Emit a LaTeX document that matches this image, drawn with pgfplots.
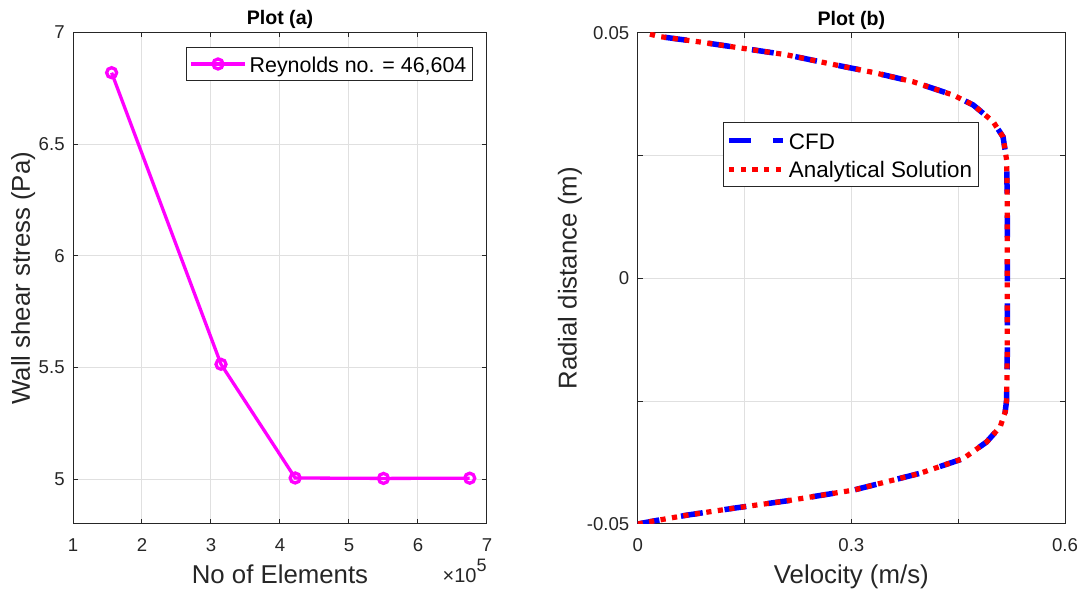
\documentclass[border=0pt]{standalone}
\usepackage{pgfplots}
\pgfplotsset{compat=1.18}
\usepackage{fontspec}
\setmainfont{Liberation Sans}
\definecolor{axgray}{HTML}{262626}
\definecolor{gridgray}{HTML}{E0E0E0}
\definecolor{mag}{HTML}{FF00FF}
\pgfplotsset{
  mystyle/.style={
    scale only axis,
    anchor=south west,
    scaled x ticks=false, scaled y ticks=false,
    axis line style={draw=axgray, line width=0.5pt},
    every tick/.style={draw=axgray, line width=0.5pt},
    major tick length=2.5pt,
    tick align=inside,
    grid=major,
    major grid style={draw=gridgray, line width=0.5pt},
    /pgf/number format/assume math mode=true,
    tick label style={font=\fontsize{9.3}{11}\selectfont, text=axgray},
    xticklabel style={inner sep=0pt, anchor=north, yshift=-7pt},
    yticklabel style={inner sep=0pt, anchor=east, xshift=-4pt},
    label style={font=\fontsize{12.9}{15}\selectfont, text=axgray},
    xlabel style={at={(axis description cs:0.5,0)}, anchor=base, yshift=-30pt},
    title style={at={(axis description cs:0.5,1)}, anchor=base, yshift=-2.25pt, font=\bfseries\fontsize{9.8}{12}\selectfont},
    legend style={draw=axgray, line width=0.5pt, text=black,
      inner xsep=1.5pt, row sep=2.35pt,
      nodes={inner xsep=1.5pt, inner ysep=1pt, text height=9.3pt, text depth=0.7pt}},
    legend cell align=left,
    legend image code/.code={\draw[mark repeat=2,mark phase=2,##1] plot coordinates {(0pt,0pt) (13.5pt,0pt) (27pt,0pt)};},
  }
}
\begin{document}
\begin{tikzpicture}
\path[use as bounding box] (0,0) rectangle (540.5pt,296.5pt);
% ---------- Plot (a)
\begin{axis}[mystyle, name=axA,
  at={(36.5pt,34.5pt)}, width=207pt, height=245.75pt,
  xmin=1, xmax=7, ymin=4.8, ymax=7,
  xtick={1,2,3,4,5,6,7}, xticklabels={1,2,3,4,5,6,7},
  ytick={5,5.5,6,6.5,7}, yticklabels={5,5.5,6,6.5,7},
  title={Plot (a)},
  xlabel={No of Elements},
  ylabel={Wall shear stress (Pa)},
  ylabel style={at={(axis description cs:0,0.5)}, anchor=base, yshift=21.5pt},
  legend style={at={(0.966,0.9705)}, anchor=north east, inner ysep=2.25pt,
    font=\fontsize{10.7}{13}\selectfont},
]
\addplot[mag, line width=1.65pt, mark=o, mark size=2.5pt, mark options={line width=1.65pt}]
  coordinates {(1.56,6.82) (3.145,5.515) (4.22,5.006) (5.50,5.004) (6.75,5.005)};
\addlegendentry{Reynolds no. = 46,604}
\end{axis}
\node[anchor=base east, inner sep=0pt, text=axgray, font=\fontsize{10}{12}\selectfont]
  at ([yshift=-29.3pt]axA.south east) {×10\raisebox{0.55em}{\fontsize{9}{10}\selectfont 5}};
% ---------- Plot (b)
\begin{axis}[mystyle,
  at={(318.85pt,34.5pt)}, width=213.65pt, height=245.65pt,
  xmin=0, xmax=0.6, ymin=-0.05, ymax=0.05,
  xtick={0,0.15,0.3,0.45,0.6}, xticklabels={0,,0.3,,0.6},
  ytick={-0.05,-0.025,0,0.025,0.05}, yticklabels={-0.05,,0,,0.05},
  title={Plot (b)},
  xlabel={Velocity (m/s)},
  ylabel={Radial distance (m)},
  ylabel style={at={(axis description cs:0,0.5)}, anchor=base, yshift=30.5pt},
  legend style={at={(0.1996,0.818)}, anchor=north west, inner ysep=2.9pt,
    font=\fontsize{11.2}{13}\selectfont},
]
\addplot[blue, line width=2.75pt, dash pattern=on 11pt off 11pt] coordinates {
(0.000,-0.0500) (0.022,-0.0494) (0.069,-0.0482) (0.139,-0.0467) (0.209,-0.0453)
(0.303,-0.0431) (0.396,-0.0397) (0.457,-0.0367) (0.490,-0.0333) (0.509,-0.0302)
(0.516,-0.0272) (0.518,-0.0248) (0.519,-0.0150) (0.519,0.0000) (0.519,0.0150)
(0.518,0.0241) (0.513,0.0288) (0.499,0.0319) (0.471,0.0353) (0.443,0.0373)
(0.387,0.0400) (0.331,0.0419) (0.279,0.0434) (0.209,0.0455) (0.139,0.0470)
(0.083,0.0482) (0.031,0.0492) (0.012,0.0499)};
\addlegendentry{CFD}
\addplot[red, line width=2.6pt, dash pattern=on 2.6pt off 3.2pt] coordinates {
(0.000,-0.0500) (0.022,-0.0494) (0.069,-0.0482) (0.139,-0.0467) (0.209,-0.0453)
(0.303,-0.0431) (0.396,-0.0397) (0.457,-0.0367) (0.490,-0.0333) (0.509,-0.0302)
(0.516,-0.0272) (0.518,-0.0248) (0.519,-0.0150) (0.519,0.0000) (0.519,0.0150)
(0.518,0.0241) (0.513,0.0288) (0.499,0.0319) (0.471,0.0353) (0.443,0.0373)
(0.387,0.0400) (0.331,0.0419) (0.279,0.0434) (0.209,0.0455) (0.139,0.0470)
(0.083,0.0482) (0.031,0.0492) (0.012,0.0499)};
\addlegendentry{Analytical Solution}
\end{axis}
\end{tikzpicture}
\end{document}
